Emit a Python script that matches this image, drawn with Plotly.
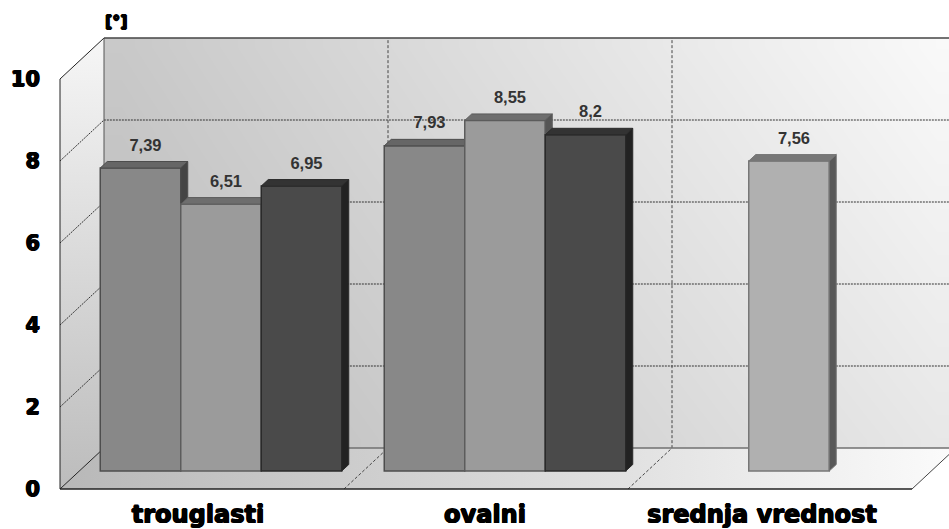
import plotly.graph_objects as go

categories = ["trouglasti", "ovalni", "srednja vrednost"]
series_a = [7.39, 7.93, None]
series_b = [6.51, 8.55, None]
series_c = [6.95, 8.2, None]
series_mean = [None, None, 7.56]
y_ticks = [0, 2, 4, 6, 8, 10]

W, H = 949, 529
PX_X = 284.0      # pixels per category
PX_Y = 41.0       # pixels per value unit
X_RANGE = [-221 / PX_X, (W - 221) / PX_X]
Y_RANGE = [-(H - 489) / PX_Y, 489 / PX_Y]

WALL_DX = 44 / PX_X
WALL_DY = 41 / PX_Y
BAR_W = 80.5 / PX_X
BAR_FLOOR = 18 / PX_Y
BAR_DX = 7 / PX_X
BAR_DY = 6.5 / PX_Y
FRONT_L = -0.5 - 19 / PX_X
FRONT_R = FRONT_L + 3
LABEL_DY = 21.5 / PX_Y
LABEL_DX = 5 / PX_X

series = [
    (series_a, -1, "#888888", "#666666", "#444444", "#4d4d4d", "#333333"),
    (series_b, 0, "#9b9b9b", "#6e6e6e", "#555555", "#5c5c5c", "#444444"),
    (series_c, 1, "#4a4a4a", "#333333", "#222222", "#2a2a2a", "#222222"),
    (series_mean, 0, "#b0b0b0", "#777777", "#585858", "#777777", "#333333"),
]

fig = go.Figure()

# back wall: a fine grid of cells gives an even diagonal shading inside the wall
wall_left = FRONT_L + WALL_DX
wall_right = X_RANGE[1] + 0.02
N = 24
wall_x = [wall_left + (wall_right - wall_left) * i / N for i in range(N + 1)]
wall_y = [WALL_DY + 10 * j / N for j in range(N + 1)]
BL, BR, TL, TR = 185, 232, 200, 250
wall_z = []
for j in range(N):
    v = (j + 0.5) / N
    row = []
    for i in range(N):
        u = (i + 0.5) / N
        row.append((BL * (1 - u) + BR * u) * (1 - v) + (TL * (1 - u) + TR * u) * v)
    wall_z.append(row)
fig.add_trace(go.Heatmap(
    x=wall_x, y=wall_y, z=wall_z,
    zmin=0, zmax=255, zsmooth="best", showscale=False, hoverinfo="skip",
    colorscale=[[0, "#000000"], [1, "#ffffff"]],
))

# floor
fig.add_trace(go.Scatter(
    x=[FRONT_L, FRONT_R, FRONT_R + WALL_DX, FRONT_L + WALL_DX, FRONT_L],
    y=[0, 0, WALL_DY, WALL_DY, 0], mode="lines", fill="toself",
    line=dict(width=0), hoverinfo="skip", showlegend=False,
    fillgradient=dict(type="horizontal", colorscale=[[0, "#b8b8b8"], [0.5, "#d8d8d8"], [1, "#fbfbfb"]]),
))
# left wall
fig.add_trace(go.Scatter(
    x=[FRONT_L, FRONT_L + WALL_DX, FRONT_L + WALL_DX, FRONT_L, FRONT_L],
    y=[0, WALL_DY, 10 + WALL_DY, 10, 0], mode="lines", fill="toself",
    line=dict(width=0), hoverinfo="skip", showlegend=False,
    fillgradient=dict(type="vertical", colorscale=[[0, "#bcbcbc"], [1, "#f6f6f6"]]),
))


def line(xs, ys, color="#222222", width=1, dash="solid"):
    fig.add_trace(go.Scatter(x=xs, y=ys, mode="lines", hoverinfo="skip", showlegend=False,
                             line=dict(color=color, width=width, dash=dash)))


# gridlines
for t in y_ticks[1:-1]:
    line([FRONT_L, FRONT_L + WALL_DX, wall_right], [t, t + WALL_DY, t + WALL_DY],
         color="#333333", dash="2px,1px")
for k in (1, 2):
    line([FRONT_L + k, FRONT_L + k + WALL_DX, FRONT_L + k + WALL_DX], [0, WALL_DY, 10 + WALL_DY],
         color="#444444", dash="3px,2px")

# frame
line([FRONT_L, FRONT_R], [0, 0], "#222222", 1.5)
line([FRONT_L, FRONT_L], [0, 10], "#222222", 1)
line([FRONT_L, FRONT_L + WALL_DX], [10, 10 + WALL_DY], "#222222", 1)
line([FRONT_L, FRONT_L + WALL_DX], [0, WALL_DY], "#222222", 1)
line([FRONT_R, FRONT_R + WALL_DX], [0, WALL_DY], "#444444", 1)
line([FRONT_L + WALL_DX, FRONT_L + WALL_DX], [WALL_DY, 10 + WALL_DY], "#555555", 1)
line([FRONT_L + WALL_DX, wall_right], [10 + WALL_DY, 10 + WALL_DY], "#444444", 1.5)
line([FRONT_L + WALL_DX, wall_right], [WALL_DY, WALL_DY], "#707070", 1.5)

# bars, one overlay per series so that painter order is kept
label_x, label_y, label_text = [], [], []
for i, (vals, slot, front, top, side, edge, lab) in enumerate(series):
    suffix = str(i + 2)
    xa, ya = "x" + suffix, "y" + suffix
    xs = [c for c, v in enumerate(vals) if v is not None]
    ys = [v for v in vals if v is not None]
    for c, v in zip(xs, ys):
        x0 = c + (slot - 0.5) * BAR_W
        x1 = x0 + BAR_W
        vt = v + BAR_FLOOR
        fig.add_trace(go.Scatter(
            x=[x0, x0 + BAR_DX, x1 + BAR_DX, x1, x0], y=[vt, vt + BAR_DY, vt + BAR_DY, vt, vt],
            mode="lines", fill="toself", fillcolor=top, line=dict(color=edge, width=1),
            xaxis=xa, yaxis=ya, hoverinfo="skip", showlegend=False))
        fig.add_trace(go.Scatter(
            x=[x1, x1 + BAR_DX, x1 + BAR_DX, x1, x1],
            y=[BAR_FLOOR, BAR_FLOOR + BAR_DY, vt + BAR_DY, vt, BAR_FLOOR],
            mode="lines", fill="toself", fillcolor=side, line=dict(color=edge, width=1),
            xaxis=xa, yaxis=ya, hoverinfo="skip", showlegend=False))
        label_x.append(c + slot * BAR_W + LABEL_DX)
        label_y.append(vt + LABEL_DY)
        label_text.append(f"{v:g}".replace(".", ","))
    fig.add_trace(go.Bar(
        x=xs, y=ys, base=BAR_FLOOR, width=BAR_W, offset=(slot - 0.5) * BAR_W,
        marker=dict(color=front, line=dict(color=edge, width=1.5)),
        xaxis=xa, yaxis=ya, hoverinfo="skip", showlegend=False))

fig.add_trace(go.Scatter(
    x=label_x, y=label_y, text=label_text, mode="text", textposition="middle center",
    textfont=dict(family="Liberation Sans", size=16.5, color="#333333", weight="bold"),
    xaxis="x5", yaxis="y5", hoverinfo="skip", showlegend=False))

HEAVY = "0.7px 0 0 #000, -0.7px 0 0 #000, 0 0.6px 0 #000, 0 -0.6px 0 #000"
layout = dict(
    width=W, height=H, margin=dict(l=0, r=0, t=0, b=0),
    paper_bgcolor="white", plot_bgcolor="white", showlegend=False, barmode="overlay",
    xaxis=dict(
        range=X_RANGE, domain=[0, 1], anchor="free", position=(H - 489) / H, automargin=False,
        tickmode="array", tickvals=[-23 / PX_X, 1 - 20 / PX_X, 2 - 27 / PX_X], ticktext=categories,
        showgrid=False, zeroline=False, showline=False,
        ticks="outside", ticklen=4, tickcolor="rgba(0,0,0,0)",
        tickfont=dict(family="DejaVu Sans", size=24, color="#000000", weight="bold", shadow=HEAVY),
    ),
    yaxis=dict(
        range=Y_RANGE, domain=[0, 1], anchor="free", position=40 / W, automargin=False,
        tickmode="array", tickvals=y_ticks,
        showgrid=False, zeroline=False, showline=False,
        ticks="", tickfont=dict(family="DejaVu Sans", size=21, color="#000000", weight="bold", shadow=HEAVY),
    ),
    annotations=[dict(
        text="[°]", xref="paper", yref="paper", x=116 / W, y=1 - 21 / H, showarrow=False,
        xanchor="center", yanchor="middle",
        font=dict(family="DejaVu Sans", size=16, color="#000000", weight="bold", shadow=HEAVY),
    )],
)
for n in range(2, 6):
    layout[f"xaxis{n}"] = dict(range=X_RANGE, overlaying="x", visible=False, anchor=f"y{n}", automargin=False)
    layout[f"yaxis{n}"] = dict(range=Y_RANGE, overlaying="y", visible=False, anchor=f"x{n}", automargin=False)
fig.update_layout(**layout)

fig.write_html("out.html", config=dict(displayModeBar=False),
               post_script="document.body.style.margin='0';document.body.style.overflow='hidden';")
